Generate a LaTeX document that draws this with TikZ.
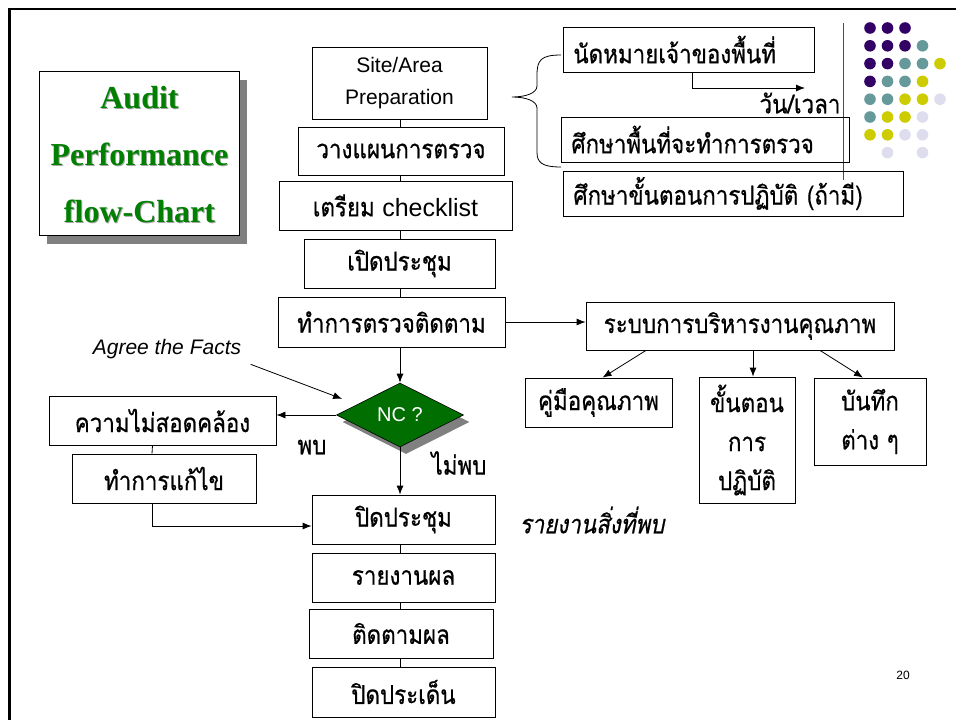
\documentclass[tikz,border=0pt]{standalone}
\usepackage{fontspec}
\setmainfont{Liberation Sans}
\newfontfamily\thaifont[Script=Thai,FakeStretch=0.86,FakeBold=0.6]{Loma}
\newfontfamily\thaiit[Script=Thai,FakeStretch=0.86,FakeSlant=0.2,FakeBold=0.6]{Loma}
\newfontfamily\titlefont{Liberation Serif}
\usetikzlibrary{arrows.meta,shapes.geometric,shadows}
\definecolor{dotpurple}{HTML}{330066}
\definecolor{dotteal}{HTML}{669999}
\definecolor{dotyellow}{HTML}{CCCC00}
\definecolor{dotlilac}{HTML}{DDDDEE}
\definecolor{titlegreen}{HTML}{008000}
\definecolor{ncgreen}{HTML}{006E00}

\begin{document}
\begin{tikzpicture}[x=1pt,y=-1pt,
    box/.style={draw,line width=0.8pt,inner sep=2pt,align=center,font=\thaifont\fontsize{26}{39}\selectfont},
    leftbox/.style={box,align=left,inner xsep=10pt,anchor=west,minimum height=45pt},
    lbl/.style={font=\thaifont\fontsize{26}{28}\selectfont},
    link/.style={line width=0.8pt},
    arr/.style={link,-{Latex[length=9pt,width=7pt]}}]
    \useasboundingbox (0,0) rectangle (956,720);
    \draw[line width=2.5pt] (9.5,720) -- (9.5,9) -- (956,9);
    \draw[line width=0.8pt,gray!60!black] (843,23) -- (843,180);
    \foreach \c/\r/\col in {1/1/dotpurple,2/1/dotpurple,3/1/dotpurple,
        1/2/dotpurple,2/2/dotpurple,3/2/dotpurple,4/2/dotteal,
        1/3/dotpurple,2/3/dotpurple,3/3/dotteal,4/3/dotteal,5/3/dotyellow,
        1/4/dotpurple,2/4/dotteal,3/4/dotteal,4/4/dotyellow,
        1/5/dotteal,2/5/dotteal,3/5/dotyellow,4/5/dotyellow,5/5/dotlilac,
        1/6/dotteal,2/6/dotyellow,3/6/dotyellow,4/6/dotlilac,
        1/7/dotyellow,2/7/dotyellow,3/7/dotlilac,4/7/dotlilac,
        2/8/dotlilac,4/8/dotlilac}
        \fill[\col] ({870+17.5*(\c-1)},{28+17.8*(\r-1)}) circle (5.8);

    % title
    \node[draw,line width=0.8pt,fill=white,minimum width=200pt,minimum height=164pt,
        drop shadow={shadow xshift=8pt,shadow yshift=-9pt,fill=gray,opacity=1}] (title) at (139,153) {};
    \node[align=center,text=gray!70,font=\titlefont\bfseries\fontsize{32}{57}\selectfont] at (140.5,156) {Audit\\Performance\\flow-Chart};
    \node[align=center,text=titlegreen,font=\titlefont\bfseries\fontsize{32}{57}\selectfont] at (139.5,155) {Audit\\Performance\\flow-Chart};

    % main column
    \coordinate (spine) at (400,0);
    \node[box,font=\fontsize{21}{32}\selectfont,minimum width=175pt,minimum height=72pt] (site) at (399.5,83) {Site/Area\\Preparation};
    \node[box,minimum width=206pt,minimum height=48pt] (plan) at (401,151) {วางแผนการตรวจ};
    \node[box,minimum width=233pt,minimum height=49pt] (check) at (395.5,205.5) {เตรียม {\fontspec{Liberation Sans}\fontsize{25}{28}\selectfont checklist}};
    \node[box,minimum width=191pt,minimum height=49pt] (open) at (399.5,263.5) {เปิดประชุม};
    \node[box,minimum width=227pt,minimum height=50pt] (audit) at (391.5,322) {ทำการตรวจติดตาม};
    \node[diamond,draw,line width=0.6pt,fill=ncgreen,minimum width=127pt,minimum height=64pt,inner sep=0pt,
        text=white,font=\fontsize{20}{24}\selectfont,
        drop shadow={shadow xshift=6pt,shadow yshift=-7pt,fill=gray,opacity=1}] (nc) at (400,415) {NC ?};
    \node[box,minimum width=183pt,minimum height=49pt] (close) at (403.5,519.5) {ปิดประชุม};
    \node[box,minimum width=183pt,minimum height=49pt] (report) at (403.5,577.5) {รายงานผล};
    \node[box,minimum width=184pt,minimum height=49pt] (follow) at (401,633.5) {ติดตามผล};
    \node[box,minimum width=183pt,minimum height=50pt] (closeissue) at (403.5,692) {ปิดประเด็น};

    % left branch
    \node[box,minimum width=227pt,minimum height=49pt] (nonconf) at (162.5,420.5) {ความไม่สอดคล้อง};
    \node[box,minimum width=184pt,minimum height=49pt] (fix) at (164,478.5) {ทำการแก้ไข};

    % quality system
    \node[box,minimum width=308pt,minimum height=48pt] (qms) at (740,326) {ระบบการบริหารงานคุณภาพ};
    \node[box,minimum width=147pt,minimum height=49pt] (manual) at (598.5,402.5) {คู่มือคุณภาพ};
    \node[box,minimum width=96pt,minimum height=126pt] (proc) at (747,440) {ขั้นตอน\\การ\\ปฏิบัติ};
    \node[box,minimum width=112pt,minimum height=87pt] (rec) at (870,421.5) {บันทึก\\ต่าง ๆ};

    % preparation
    \node[leftbox,text width=231pt] (appoint) at (563,49.5) {นัดหมายเจ้าของพื้นที่};
    \node[leftbox,text width=268pt] (study) at (561,139.5) {ศึกษาพื้นที่จะทำการตรวจ};
    \node[leftbox,text width=320pt] (studyproc) at (563,193.5) {ศึกษาขั้นตอนการปฏิบัติ (ถ้ามี)};
    \coordinate (daytime) at (805,88);

    % labels
    \node[font=\itshape\fontsize{21}{24}\selectfont] (agree) at (167,349) {Agree the Facts};
    \node[lbl] (found) at (312,447) {พบ};
    \node[lbl] (notfound) at (459,463) {ไม่พบ};
    \node[lbl] (dtlabel) at (800,103) {วัน/เวลา};
    \node[lbl,font=\thaiit\fontsize{26}{28}\selectfont] (findings) at (592,520) {รายงานสิ่งที่พบ};
    \node[font=\fontsize{12}{14}\selectfont] (page) at (903,675) {20};

    \draw[link] (site.south -| spine) -- (plan.north -| spine);
    \draw[link] (plan.south -| spine) -- (check.north -| spine);
    \draw[link] (check.south -| spine) -- (open.north -| spine);
    \draw[link] (open.south -| spine) -- (audit.north -| spine);
    \draw[arr] (audit.south -| spine) -- (nc.north);
    \draw[arr] (audit.east) -- (audit.east -| qms.west);
    \draw[arr] ([xshift=-94pt]qms.south) -- ([xshift=4pt]manual.north);
    \draw[arr] ([xshift=13pt]qms.south) -- ([xshift=6pt]proc.north);
    \draw[arr] ([xshift=80pt]qms.south) -- ([xshift=-7pt]rec.north);
    \draw[arr] ([shift={(6pt,-2pt)}]agree.south east) -- ([xshift=-26pt]nc.north west);
    \draw[arr] (nc.west) -- (nc.west -| nonconf.east);
    \draw[link] ([xshift=-10pt]nonconf.south) -- ([xshift=-12pt]fix.north);
    \draw[arr] ([xshift=-12pt]fix.south) |- ([yshift=-6.5pt]close.west);
    \draw[arr] (nc.south) -- (nc.south |- close.north);
    \draw[link] (close.south -| spine) -- (report.north -| spine);
    \draw[link] (report.south -| spine) -- (follow.north -| spine);
    \draw[link] (follow.south -| spine) -- (closeissue.north -| spine);
    \draw[arr] ([xshift=3.5pt]appoint.south) |- (daytime);

    % brace
    \draw[link] (561,55) .. controls (541,55) and (537,60) .. (537,75) -- (537,86)
        .. controls (537,93) and (526,97) .. (512,97) .. controls (526,97) and (537,101) .. (537,108)
        -- (537,152) .. controls (537,162) and (541,167) .. (561,167);
\end{tikzpicture}
\end{document}
